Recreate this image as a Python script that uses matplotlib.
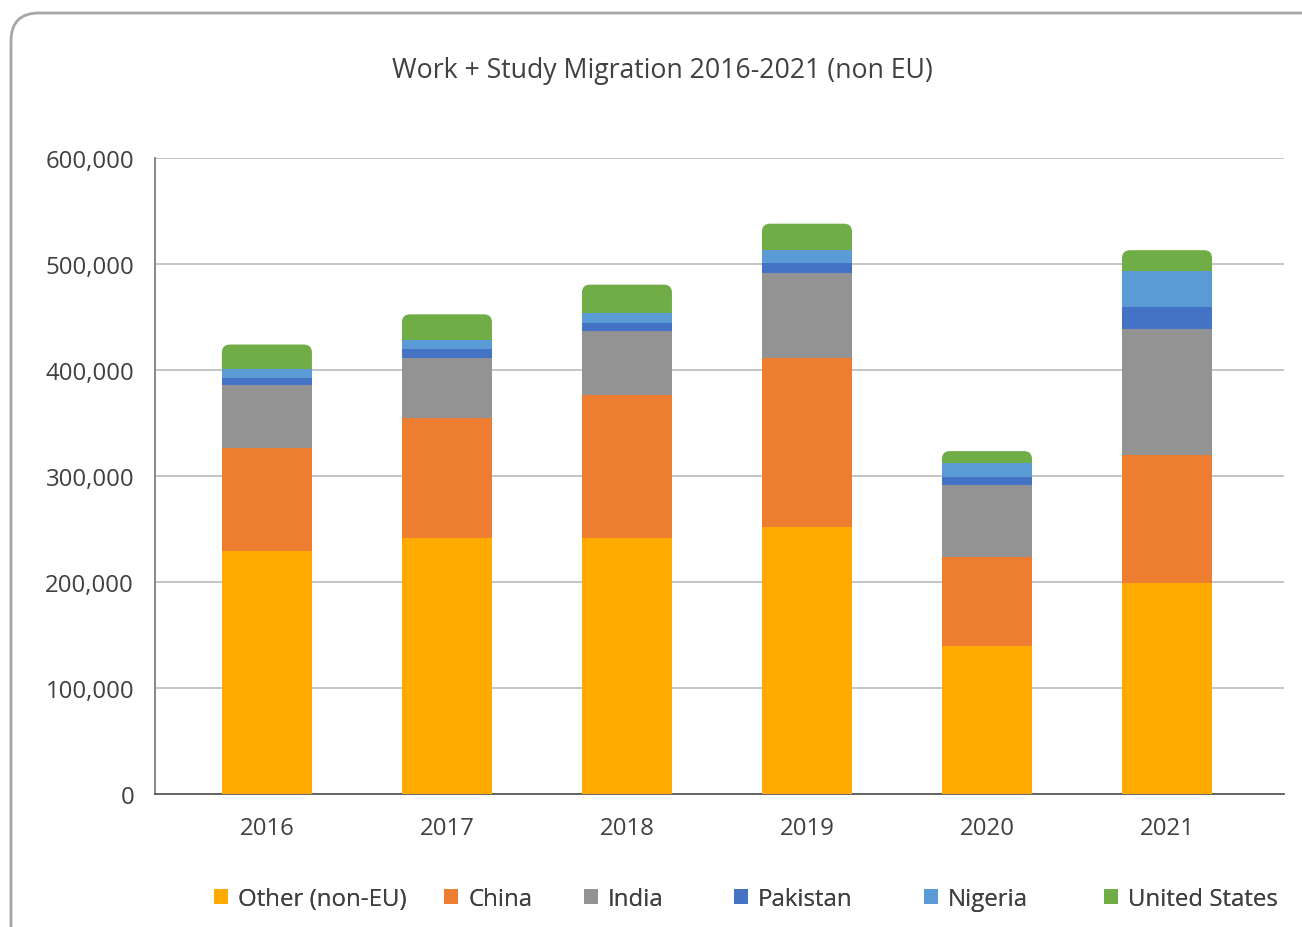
import matplotlib
matplotlib.use("Agg")
import matplotlib.pyplot as plt
from matplotlib.patches import FancyBboxPatch, Patch
from matplotlib.ticker import FuncFormatter
import numpy as np

plt.rcParams['font.family'] = ['Open Sans', 'DejaVu Sans']

years = ["2016", "2017", "2018", "2019", "2020", "2021"]
other = [229000, 241500, 241500, 252000, 139500, 199000]
china = [97000, 113000, 135000, 159500, 84000, 121000]
india = [59500, 56500, 60500, 80000, 68000, 119000]
pakistan = [6500, 8500, 7500, 9500, 7500, 20000]
nigeria = [8500, 8500, 9500, 12500, 13000, 34000]
usa = [23500, 24500, 26500, 24500, 11500, 20000]

series = ["Other (non-EU)", "China", "India", "Pakistan", "Nigeria", "United States"]
colors = ["#FFAA00", "#ED7D31", "#939393", "#4472C4", "#5B9BD5", "#70AD47"]
text_col = "#404040"

fig = plt.figure(figsize=(13.02, 9.28), dpi=100)
ax = fig.add_axes([0.1190, 0.1433, 0.8672, 0.6854])

# outer rounded frame, in pixels
frame = FancyBboxPatch((11, -60), 1400, 914 + 60, boxstyle="round,pad=0,rounding_size=28",
                       transform=None, fill=False, edgecolor="#A6A6A6", linewidth=2)
fig.patches.append(frame)

x = np.arange(len(years))
w = 0.5
data = [other, china, india, pakistan, nigeria]
bottom = np.zeros(len(years))
for vals, col in zip(data, colors[:5]):
    ax.bar(x, vals, w, bottom=bottom, color=col, zorder=3, linewidth=0)
    bottom += np.array(vals)

# top segment with rounded top corners
px_x = 180.0            # pixels per x unit
px_y = 106.0 / 100000   # pixels per y unit
r_px = 8
r_x = r_px / px_x
r_y = r_px / px_y
for xi, b, h in zip(x, bottom, usa):
    p = FancyBboxPatch((xi - w / 2, b - r_y), w, h + r_y,
                       boxstyle="round,pad=0,rounding_size=%f" % r_x,
                       mutation_aspect=r_y / r_x, facecolor=colors[5],
                       edgecolor="none", zorder=2)
    ax.add_patch(p)

ax.set_xlim(-0.622, 5.65)
ax.set_ylim(0, 600000)
ax.set_yticks(np.arange(0, 600001, 100000))
ax.yaxis.set_major_formatter(FuncFormatter(lambda v, p: "{:,.0f}".format(v)))
ax.set_xticks(x)
ax.set_xticklabels(years)
ax.grid(axis="y", color="#C0C0C0", linewidth=1.3, zorder=0)
ax.set_axisbelow(True)
for s in ["top", "right"]:
    ax.spines[s].set_visible(False)
ax.spines["left"].set_color("#7F7F7F")
ax.spines["bottom"].set_color("#595959")
ax.spines["left"].set_linewidth(1.3)
ax.spines["bottom"].set_linewidth(1.3)
ax.tick_params(axis="both", length=0, labelsize=17.3, colors=text_col)
ax.tick_params(axis="y", pad=15)
ax.tick_params(axis="x", pad=16)

fig.text(0.509, 0.924, "Work + Study Migration 2016-2021 (non EU)", ha="center", va="center",
         fontsize=19.2, color=text_col)

# legend entries placed like the original (uneven spacing)
leg_x = [214, 444, 584, 734, 924, 1104]
for c, n, lx in zip(colors, series, leg_x):
    lg = fig.legend(handles=[Patch(facecolor=c, label=n)], loc="center left",
                    bbox_to_anchor=(lx / 1302, 0.030), frameon=False, fontsize=17.3,
                    handlelength=0.6, handleheight=0.6, handletextpad=0.4,
                    borderpad=0, borderaxespad=0, labelcolor=text_col)
    fig.add_artist(lg)

fig.savefig("out.png", dpi=100)
